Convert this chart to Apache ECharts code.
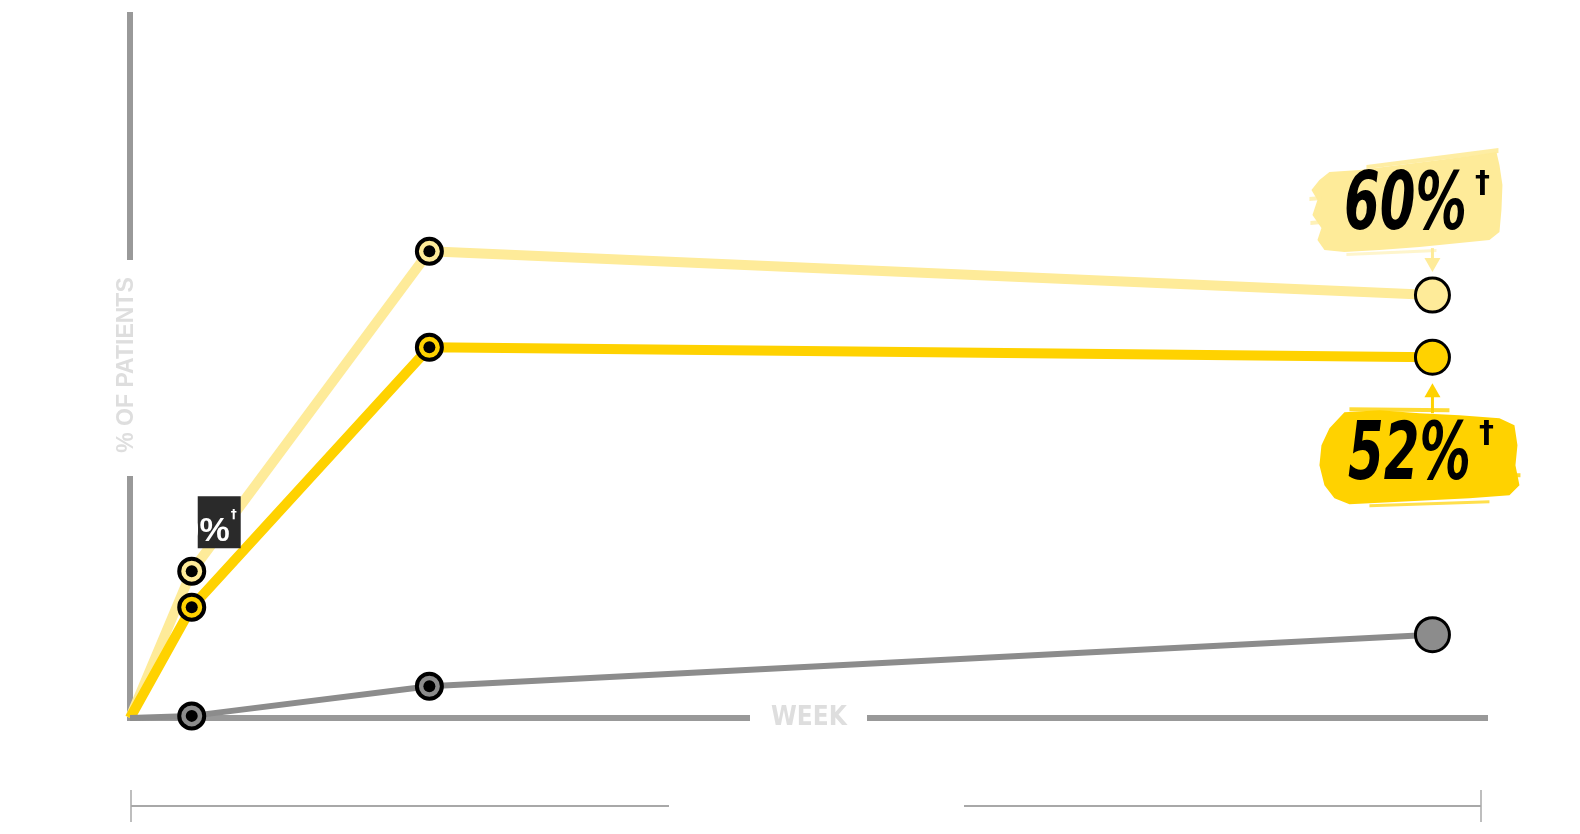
<!DOCTYPE html>
<html>
<head>
<meta charset="utf-8">
<script src="https://cdn.jsdelivr.net/npm/echarts@6/dist/echarts.min.js"></script>
<style>
  html, body { margin: 0; background: #fff; }
  #chart { width: 1580px; height: 834px; }
</style>
</head>
<body>
<div id="chart"></div>
<script>
// Values (week, % of patients).
const WEEKS = [0, 1, 4.85, 21.1];
const HIGH_DOSE = [0, 20.8, 66.1, 59.9];
const LOW_DOSE = [0, 15.7, 52.5, 51.1];
const PLACEBO = [0, 0.3, 4.5, 11.8];

const HIGH_LABEL = '60%';
const LOW_LABEL = '52%';
const EARLY_LABEL = '0%';
const X_NAME = 'WEEK';
const Y_NAME = '% OF PATIENTS';

const LIGHT = '#FEEB99';
const GOLD = '#FFD200';
const GREY = '#8C8C8C';
const AXIS = '#999999';
const FAINT = '#DEDEDE';

const last = WEEKS.length - 1;

function lineSeries(name, values, color, width, z) {
  return {
    name, type: 'line', z,
    showSymbol: true, showAllSymbol: true,
    data: WEEKS.map((w, i) => ({
      value: [w, values[i]],
      symbol: i === 0 ? 'none' : 'circle',
      symbolSize: i === last ? 34 : 25,
      itemStyle: { borderWidth: i === last ? 3 : 4 },
    })),
    lineStyle: { color, width },
    itemStyle: { color, borderColor: '#000', borderWidth: 4, opacity: 1 },
    emphasis: { disabled: true },
  };
}

// black centre dot of the "target" markers on the two early points
function dots(values, z) {
  return {
    type: 'scatter', z, symbolSize: 12,
    itemStyle: { color: '#000', opacity: 1 },
    data: [1, 2].map(i => [WEEKS[i], values[i]]),
    silent: true,
  };
}

const chart = echarts.init(document.getElementById('chart'), null, { renderer: 'canvas' });

const noAxisBits = {
  axisLine: { show: false }, axisTick: { show: false },
  axisLabel: { show: false }, splitLine: { show: false },
};

chart.setOption({
  backgroundColor: '#fff',
  animation: false,
  grid: { left: 130, right: 92, top: 12, bottom: 116 },
  xAxis: {
    type: 'value', min: 0, max: 22,
    name: X_NAME, nameLocation: 'middle', nameGap: 0,
    nameTextStyle: {
      color: FAINT, fontSize: 26, fontWeight: 'bold', fontFamily: 'DejaVu Sans Condensed',
      verticalAlign: 'middle',
    },
    ...noAxisBits,
  },
  yAxis: {
    type: 'value', min: 0, max: 100,
    name: Y_NAME, nameLocation: 'middle', nameGap: 3, nameRotate: 90,
    nameTextStyle: {
      color: FAINT, fontSize: 23, fontWeight: 'bold', fontFamily: 'Liberation Sans',
      verticalAlign: 'middle', align: 'center',
    },
    ...noAxisBits,
  },
  series: [
    lineSeries('high', HIGH_DOSE, LIGHT, 10, 2),
    lineSeries('low', LOW_DOSE, GOLD, 10, 3),
    lineSeries('placebo', PLACEBO, GREY, 6, 4),
    dots(HIGH_DOSE, 5), dots(LOW_DOSE, 5), dots(PLACEBO, 5),
  ],
});

const px = (w, v) => chart.convertToPixel({ gridIndex: 0 }, [w, v]);
const origin = px(0, 0);
const yTop = px(0, 100);
const xEnd = px(22, 0);
const hi = px(WEEKS[last], HIGH_DOSE[last]);
const lo = px(WEEKS[last], LOW_DOSE[last]);
const early = px(WEEKS[1], HIGH_DOSE[1]);

const seg = (x1, y1, x2, y2, stroke, lineWidth, z) => ({
  type: 'line', z: z == null ? 100 : z, shape: { x1, y1, x2, y2 }, style: { stroke, lineWidth },
});
const poly = (o, pts, fill, opacity) => ({
  type: 'polygon', z: 100,
  shape: { points: pts.map(p => [o[0] + p[0], o[1] + p[1]]) },
  style: { fill, opacity: opacity == null ? 1 : opacity },
});

// axis lines with gaps left for the axis names
const yMid = (origin[1] + yTop[1]) / 2;
const xMid = (origin[0] + xEnd[0]) / 2;
const graphics = [
  seg(origin[0], yTop[1], origin[0], yMid - 105, AXIS, 6, 0),
  seg(origin[0], yMid + 111, origin[0], origin[1] + 3, AXIS, 6, 0),
  seg(origin[0], origin[1], xMid - 59, origin[1], AXIS, 6, 0),
  seg(xMid + 58, origin[1], xEnd[0], origin[1], AXIS, 6, 0),
];

// rough brush-stroke shapes behind the callouts
const hiBox = [hi[0] - 26, hi[1] - 92];
const loBox = [lo[0] - 13, lo[1] + 98];

const HI_BODY = [[-77,-31],[-47,-33],[-7,-38],[33,-43],[63,-47],[90,-51],[93,-38],[96,-18],[95,7],[93,29],[83,37],[53,40],[13,44],[-27,47],[-62,49],[-82,47],[-89,37],[-85,25],[-94,12],[-89,-3],[-95,-13],[-87,-23]];
const LO_BODY = [[-75,-43],[-40,-45],[0,-42],[40,-40],[80,-37],[95,-30],[98,-10],[96,10],[100,30],[90,40],[50,43],[10,45],[-30,47],[-70,49],[-85,43],[-95,30],[-100,10],[-98,-10],[-90,-27]];

graphics.push(
  poly(hiBox, HI_BODY, LIGHT),
  poly(hiBox, [[-40,-38],[92,-55],[92,-50],[-40,-34]], LIGHT, 0.9),
  poly(hiBox, [[-97,-6],[-85,-7],[-85,-3],[-97,-2]], LIGHT, 0.7),
  poly(hiBox, [[-96,18],[-85,17],[-85,21],[-96,22]], LIGHT, 0.7),
  poly(hiBox, [[-60,50],[30,46],[30,49],[-60,53]], LIGHT, 0.5),
  poly(loBox, LO_BODY, GOLD),
  poly(loBox, [[-70,-48],[30,-47],[30,-43],[-70,-44]], GOLD, 0.8),
  poly(loBox, [[-50,49],[70,45],[70,48],[-50,52]], GOLD, 0.7),
  poly(loBox, [[92,18],[101,18],[101,22],[92,22]], GOLD, 0.8),
  // arrows
  seg(hi[0], hi[1] - 47, hi[0], hi[1] - 36, LIGHT, 3),
  poly(hi, [[-8,-37],[8,-37],[0,-23]], LIGHT),
  seg(lo[0], lo[1] + 39, lo[0], lo[1] + 56, GOLD, 3),
  poly(lo, [[-8,40],[8,40],[0,26]], GOLD),
);

function callout(o, dx, dy, text) {
  return [{
    type: 'text', z: 110, x: o[0] + dx, y: o[1] + dy, scaleX: 0.92, scaleY: 1.3,
    style: {
      text, fill: '#000', font: 'italic bold 62px "DejaVu Sans Condensed"',
      textAlign: 'center', textVerticalAlign: 'middle',
    },
  }, {
    type: 'text', z: 110, x: o[0] + dx + 77, y: o[1] + dy - 24,
    style: { text: '†', fill: '#000', font: 'bold 30px "DejaVu Sans"', textAlign: 'center', textVerticalAlign: 'middle' },
  }];
}
graphics.push(...callout(hi, -27, -87, HIGH_LABEL));
graphics.push(...callout(lo, -23, 101, LOW_LABEL));

// dark badge near the first week, text partly hidden
graphics.push(
  { type: 'rect', z: 100, shape: { x: early[0] + 6, y: early[1] - 75, width: 43, height: 52 }, style: { fill: '#2A2A2A' } },
  { type: 'text', z: 101, x: early[0] + 38, y: early[1] - 40,
    style: { text: EARLY_LABEL, fill: '#fff', font: 'bold 34px "Liberation Sans"', textAlign: 'right', textVerticalAlign: 'middle' } },
  { type: 'text', z: 101, x: early[0] + 42, y: early[1] - 56,
    style: { text: '†', fill: '#fff', font: 'bold 12px "DejaVu Sans"', textAlign: 'center', textVerticalAlign: 'middle' } },
);

// brackets under the axis
const bx0 = origin[0] + 1;
const bx1 = 1481;
const by = 806;
const BR = '#A8A8A8';
graphics.push(
  seg(bx0, by, 669, by, BR, 2),
  seg(964, by, bx1, by, BR, 2),
  seg(bx0, 790, bx0, 822, BR, 1.5),
  seg(bx1, 790, bx1, 822, BR, 1.5),
);

chart.setOption({ graphic: graphics });
window.addEventListener('resize', () => chart.resize());
</script>
</body>
</html>
